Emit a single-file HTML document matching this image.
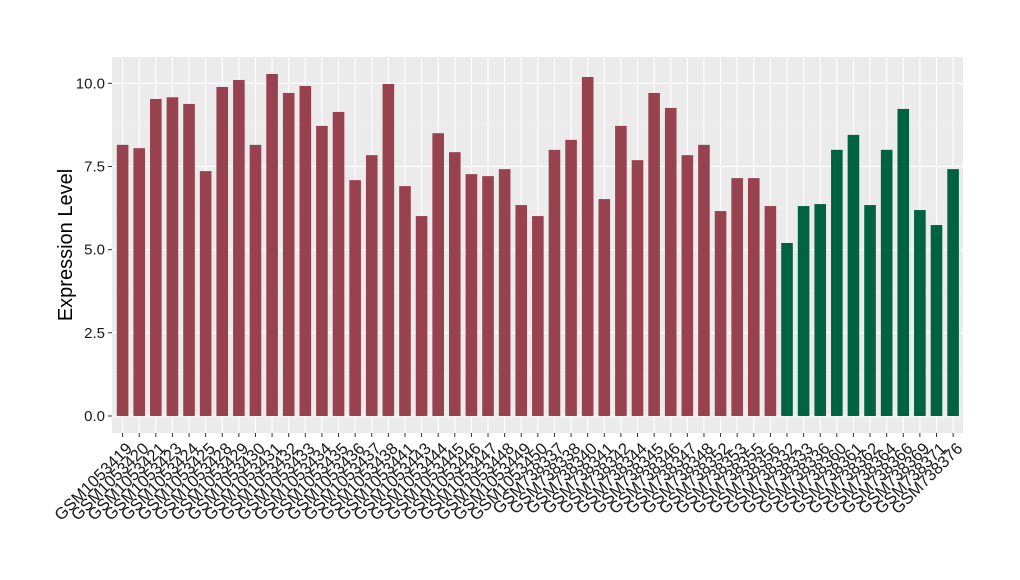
<!DOCTYPE html>
<html><head><meta charset="utf-8"><style>
html,body{margin:0;padding:0;background:#fff;}
svg{display:block;font-family:"Liberation Sans",Arial,sans-serif;}
</style></head><body>
<svg id="s" width="1020" height="580" xmlns="http://www.w3.org/2000/svg">
<rect x="112" y="57" width="851" height="376" fill="#EBEBEB"/>
<g id="grid"></g>
<g id="bars"></g>
<g id="axes"></g>
<text transform="translate(72,245) rotate(-90)" text-anchor="middle" font-size="20" fill="#000">Expression Level</text>
</svg>
<script>
const vals=[8.15,8.05,9.53,9.58,9.38,7.36,9.89,10.1,8.15,10.28,9.71,9.92,8.72,9.14,7.09,7.84,9.98,6.91,6.01,8.5,7.93,7.27,7.21,7.42,6.34,6.01,8.0,8.3,10.19,6.52,8.72,7.69,9.71,9.26,7.84,8.15,6.16,7.15,7.15,6.31,5.2,6.31,6.37,8.0,8.45,6.34,8.0,9.23,6.19,5.74,7.42];
const labs=["GSM1053419","GSM1053420","GSM1053421","GSM1053423","GSM1053424","GSM1053425","GSM1053428","GSM1053429","GSM1053430","GSM1053431","GSM1053432","GSM1053433","GSM1053434","GSM1053435","GSM1053436","GSM1053437","GSM1053438","GSM1053441","GSM1053443","GSM1053444","GSM1053445","GSM1053446","GSM1053447","GSM1053448","GSM1053449","GSM1053450","GSM738337","GSM738338","GSM738340","GSM738341","GSM738342","GSM738344","GSM738345","GSM738346","GSM738347","GSM738348","GSM738352","GSM738353","GSM738355","GSM738356","GSM738332","GSM738333","GSM738336","GSM738360","GSM738361","GSM738362","GSM738364","GSM738366","GSM738369","GSM738371","GSM738376"];
const NS="http://www.w3.org/2000/svg";
function el(p,t,a,txt){const e=document.createElementNS(NS,t);for(const k in a)e.setAttribute(k,a[k]);if(txt)e.textContent=txt;document.getElementById(p).appendChild(e);return e;}
const y0=416,sc=33.27,x0=122.6,step=16.61,bw=11.6;
for(let v=1.25;v<=10.5;v+=2.5){const y=y0-v*sc;el("grid","line",{x1:112,x2:963,y1:y,y2:y,stroke:"#F5F5F5","stroke-width":0.6});}
for(let v=0;v<=10;v+=2.5){const y=y0-v*sc;el("grid","line",{x1:112,x2:963,y1:y,y2:y,stroke:"#fff","stroke-width":1.1});
el("axes","line",{x1:108,x2:112,y1:y,y2:y,stroke:"#333","stroke-width":1});
el("axes","text",{x:105,y:y+5,"text-anchor":"end","font-size":15,fill:"#1a1a1a"},v.toFixed(1));}
vals.forEach((v,i)=>{const cx=x0+i*step;
el("grid","line",{x1:cx,x2:cx,y1:57,y2:433,stroke:"#fff","stroke-width":1.1});
el("bars","rect",{x:cx-bw/2,y:y0-v*sc,width:bw,height:v*sc,fill:i<40?"#99424F":"#006241"});
el("axes","line",{x1:cx,x2:cx,y1:433,y2:437,stroke:"#333","stroke-width":1});
el("axes","text",{transform:`translate(${cx+2},441) rotate(-45)`,x:0,y:12,"text-anchor":"end","font-size":16.5,fill:"#1a1a1a"},labs[i]);});
</script>
</body></html>
